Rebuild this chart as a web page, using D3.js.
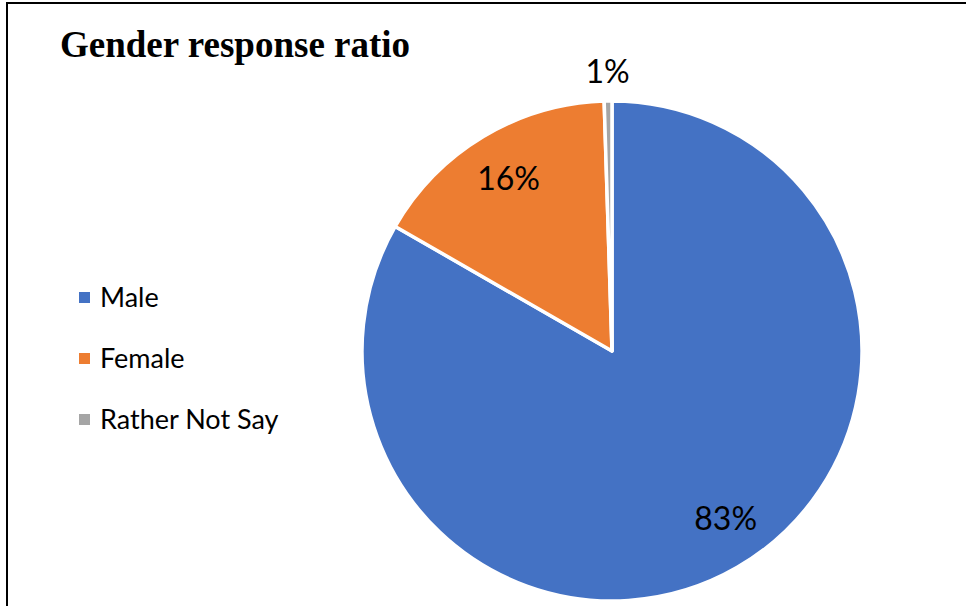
<!DOCTYPE html>
<html>
<head>
<meta charset="utf-8">
<script src="https://cdn.jsdelivr.net/npm/d3@7"></script>
<style>
	body { margin: 0; background: #fff; }
	svg { display: block; }
</style>
</head>
<body>
<svg id="chart" width="966" height="606"></svg>
<script>
'use strict';

// data
const categories = ['Male', 'Female', 'Rather Not Say'];
const shares = [83.3, 16.2, 0.5];
const colors = ['#4472C4', '#ED7D31', '#A5A5A5'];

(function () {

	const cx = 612, cy = 351, radius = 250;

	const svg = d3.select('#chart');

	// frame (runs off the bottom/right of the picture)
	svg.append('rect')
		.attr('x', 7)
		.attr('y', 3)
		.attr('width', 970)
		.attr('height', 620)
		.attr('fill', 'none')
		.attr('stroke', '#000')
		.attr('stroke-width', 2);

	svg.append('text')
		.attr('x', 60)
		.attr('y', 57)
		.style('font-family', '"Liberation Serif", "Times New Roman", serif')
		.style('font-weight', 'bold')
		.style('font-size', '37px')
		.text('Gender response ratio');

	const data = categories.map((c, i) => ({ name: c, value: shares[i], color: colors[i] }));
	const total = d3.sum(shares);

	const pie = d3.pie()
		.sort(null)
		.value(d => d.value);

	const arc = d3.arc()
		.innerRadius(0)
		.outerRadius(radius);

	const g = svg.append('g')
		.attr('transform', `translate(${cx}, ${cy})`);

	const arcs = pie(data);

	g.selectAll('path.slice')
		.data(arcs)
		.enter()
		.append('path')
		.classed('slice', true)
		.attr('d', arc)
		.attr('fill', d => d.data.color)
		.attr('stroke', '#fff')
		.attr('stroke-width', 3.5)
		.attr('stroke-linejoin', 'round');

	// labels: inside for big slices, outside for tiny ones
	const inner = d3.arc().innerRadius(201).outerRadius(201);
	const outer = d3.arc().innerRadius(279).outerRadius(279);

	g.selectAll('text.pct')
		.data(arcs)
		.enter()
		.append('text')
		.classed('pct', true)
		.attr('transform', d => `translate(${(d.data.value / total < 0.05 ? outer : inner).centroid(d)})`)
		// the big slice's label sits a bit further round in the original
		.attr('dx', d => d.data.value / total > 0.5 ? 13 : 0)
		.attr('dy', d => d.data.value / total > 0.5 ? '0.15em' : '0.35em')
		.attr('text-anchor', 'middle')
		.style('font-family', 'Lato, "Noto Sans", sans-serif')
		.style('font-size', '32px')
		.style('fill', '#000')
		.text(d => Math.round(d.data.value) + '%');

	// legend
	const legend = svg.append('g')
		.attr('transform', 'translate(79, 298)');

	const item = legend.selectAll('g.item')
		.data(data)
		.enter()
		.append('g')
		.classed('item', true)
		.attr('transform', (d, i) => `translate(0, ${i * 61})`);

	item.append('rect')
		.attr('x', 0)
		.attr('y', -6)
		.attr('width', 11)
		.attr('height', 11)
		.attr('fill', d => d.color);

	item.append('text')
		.attr('x', 21)
		.attr('y', 0)
		.attr('dy', '0.35em')
		.style('font-family', 'Lato, "Noto Sans", sans-serif')
		.style('font-size', '27px')
		.style('fill', '#000')
		.text(d => d.name);

})();
</script>
</body>
</html>
